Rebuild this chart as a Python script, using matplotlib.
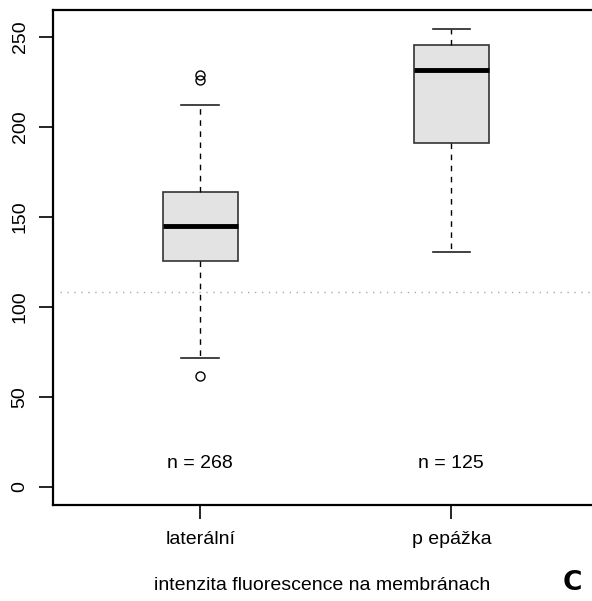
import matplotlib
matplotlib.use("Agg")
import matplotlib.pyplot as plt

plt.rcParams['font.family'] = ['Liberation Sans', 'DejaVu Sans']

categories = ["laterální", "p epážka"]
counts = [268, 125]
q1 = [125.5, 191.0]
median = [145.0, 231.5]
q3 = [163.8, 245.8]
whisker_low = [71.5, 130.5]
whisker_high = [212.5, 254.5]
outliers = [[229.0, 226.0, 61.5], []]
reference_level = 108.5
yticks = [0, 50, 100, 150, 200, 250]

fig = plt.figure(figsize=(5.92, 6.01), dpi=100)
W, H = 592, 601
left_px, right_px, top_px, bottom_px = 53, 592, 10, 505
ax = fig.add_axes([left_px / W, 1 - bottom_px / H, (right_px - left_px) / W, (bottom_px - top_px) / H])

stats = []
for i, c in enumerate(categories):
    stats.append(dict(label=c, q1=q1[i], med=median[i], q3=q3[i],
                      whislo=whisker_low[i], whishi=whisker_high[i], fliers=outliers[i]))

positions = [1, 2]
ax.bxp(stats, positions=positions, widths=0.3, patch_artist=True,
       boxprops=dict(facecolor='#e3e3e3', edgecolor='#333333', linewidth=1.2),
       medianprops=dict(color='black', linewidth=3.5, solid_capstyle='butt'),
       whiskerprops=dict(color='black', linewidth=1.0, linestyle=(0, (4, 4))),
       capprops=dict(color='#222222', linewidth=1.2),
       capwidths=0.15,
       flierprops=dict(marker='o', markersize=6.5, markerfacecolor='none',
                       markeredgecolor='black', markeredgewidth=1.0))

ax.axhline(reference_level, color='#aaaaaa', linewidth=1.0, linestyle=(0, (1, 4)), zorder=0,
           xmin=0.013)

for p, n in zip(positions, counts):
    ax.text(p, 13.3, f"n = {n}", ha='center', va='center', fontsize=14)

ax.set_ylim(-10, 265)
ax.set_xlim(0.414, 2.56)
ax.set_yticks(yticks)
ax.set_yticklabels([str(v) for v in yticks], rotation=90, va='center', fontsize=14)
ax.set_xticks(positions)
ax.set_xticklabels(categories, fontsize=14)
ax.tick_params(axis='both', length=10, width=1.2, color='black')
ax.tick_params(axis='y', pad=7.5)
ax.tick_params(axis='x', pad=9)

for s in ['left', 'top', 'bottom']:
    ax.spines[s].set_linewidth(1.6)
ax.spines['right'].set_visible(False)

fig.text(322 / W, 1 - 586 / H, "intenzita fluorescence na membránach", ha='center', va='center', fontsize=14)
fig.text(572 / W, 1 - 583 / H, "C", ha='center', va='center', fontsize=19, fontweight='bold',
         family=['DejaVu Sans'])

fig.savefig("out.png", dpi=100)
